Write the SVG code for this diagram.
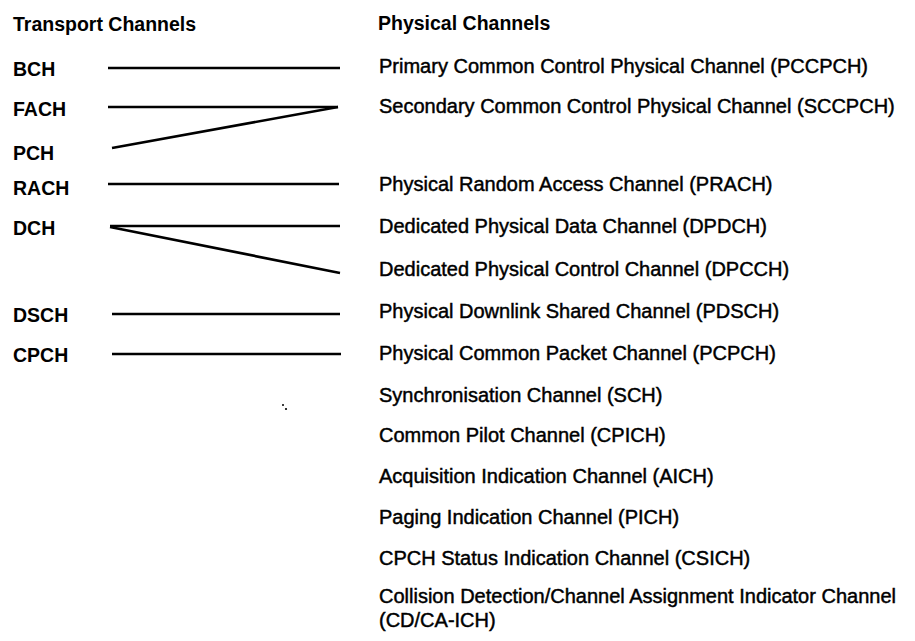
<svg xmlns="http://www.w3.org/2000/svg" width="915" height="641" viewBox="0 0 915 641">
  <style>
    text { font-family: "Liberation Sans", Arial, sans-serif; fill: #000; }
    .hdr { font-size: 19.5px; font-weight: bold; }
    .tc { font-size: 19.5px; font-weight: bold; }
    .pc { font-size: 20px; stroke: #000; stroke-width: 0.45px; }
    .link { stroke: #000; stroke-width: 2.6; stroke-linecap: butt; fill: none; }
  </style>
  <rect width="915" height="641" fill="#fff"/>

  <!-- column headings -->
  <g id="heading-transport"><text class="hdr" x="13" y="31">Transport Channels</text></g>
  <g id="heading-physical"><text class="hdr" x="378" y="30">Physical Channels</text></g>

  <!-- transport channels -->
  <g id="t-bch"><text class="tc" x="13" y="76">BCH</text></g>
  <g id="t-fach"><text class="tc" x="13" y="116">FACH</text></g>
  <g id="t-pch"><text class="tc" x="13" y="160">PCH</text></g>
  <g id="t-rach"><text class="tc" x="13" y="195">RACH</text></g>
  <g id="t-dch"><text class="tc" x="13" y="235">DCH</text></g>
  <g id="t-dsch"><text class="tc" x="13" y="322">DSCH</text></g>
  <g id="t-cpch"><text class="tc" x="13" y="362">CPCH</text></g>

  <!-- physical channels -->
  <g id="p-pccpch"><text class="pc" x="379" y="73">Primary Common Control Physical Channel (PCCPCH)</text></g>
  <g id="p-sccpch"><text class="pc" x="379" y="113">Secondary Common Control Physical Channel (SCCPCH)</text></g>
  <g id="p-prach"><text class="pc" x="379" y="191">Physical Random Access Channel (PRACH)</text></g>
  <g id="p-dpdch"><text class="pc" x="379" y="233">Dedicated Physical Data Channel (DPDCH)</text></g>
  <g id="p-dpcch"><text class="pc" x="379" y="276">Dedicated Physical Control Channel (DPCCH)</text></g>
  <g id="p-pdsch"><text class="pc" x="379" y="318">Physical Downlink Shared Channel (PDSCH)</text></g>
  <g id="p-pcpch"><text class="pc" x="379" y="360">Physical Common Packet Channel (PCPCH)</text></g>
  <g id="p-sch"><text class="pc" x="379" y="402">Synchronisation Channel (SCH)</text></g>
  <g id="p-cpich"><text class="pc" x="379" y="442">Common Pilot Channel (CPICH)</text></g>
  <g id="p-aich"><text class="pc" x="379" y="483">Acquisition Indication Channel (AICH)</text></g>
  <g id="p-pich"><text class="pc" x="379" y="524">Paging Indication Channel (PICH)</text></g>
  <g id="p-csich"><text class="pc" x="379" y="565">CPCH Status Indication Channel (CSICH)</text></g>
  <g id="p-cdcaich">
    <text class="pc" x="379" y="603">Collision Detection/Channel Assignment Indicator Channel</text>
    <text class="pc" x="379" y="627">(CD/CA-ICH)</text>
  </g>

  <!-- transport-to-physical mappings -->
  <g id="connectors">
    <line class="link" x1="108" y1="68" x2="340" y2="68"/>
    <line class="link" x1="108" y1="107" x2="338" y2="107"/>
    <line class="link" x1="112" y1="148" x2="338" y2="107"/>
    <line class="link" x1="108" y1="184" x2="339" y2="184"/>
    <line class="link" x1="110" y1="226" x2="340" y2="226"/>
    <line class="link" x1="110" y1="227" x2="340" y2="273"/>
    <line class="link" x1="112" y1="314" x2="340" y2="314"/>
    <line class="link" x1="112" y1="354" x2="341" y2="354"/>
  </g>

  <!-- stray specks -->
  <circle cx="283" cy="405" r="1" fill="#000"/>
  <circle cx="286" cy="409" r="1.1" fill="#000"/>
</svg>
